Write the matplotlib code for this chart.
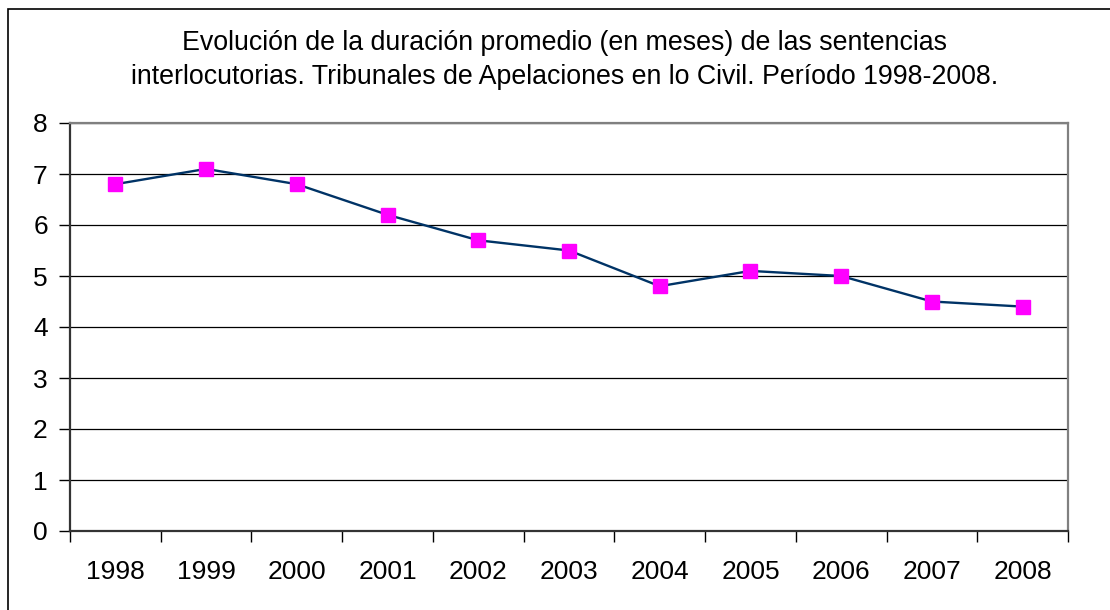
import matplotlib
matplotlib.use("Agg")
import matplotlib.pyplot as plt
from matplotlib.patches import Rectangle
import numpy as np

plt.rcParams["font.family"] = ["Liberation Sans", "DejaVu Sans"]

# --- data ---
years = ["1998", "1999", "2000", "2001", "2002", "2003",
         "2004", "2005", "2006", "2007", "2008"]
duracion = [6.8, 7.1, 6.8, 6.2, 5.7, 5.5, 4.8, 5.1, 5.0, 4.5, 4.4]
y_ticks = [0, 1, 2, 3, 4, 5, 6, 7, 8]

title = ("Evolución de la duración promedio (en meses) de las sentencias\n"
         "interlocutorias. Tribunales de Apelaciones en lo Civil. Período 1998-2008.")

fig = plt.figure(figsize=(11.1, 6.1), dpi=100)

# outer chart border (extends past right/bottom edges like the original)
fig.patches.append(Rectangle((8 / 1110, -0.1), 1.2, 1 - 9 / 610 + 0.1,
                             transform=fig.transFigure, fill=False,
                             edgecolor="black", linewidth=1.2))

ax = fig.add_axes([70 / 1110, 1 - 531 / 610, 998 / 1110, 408 / 610])

x = np.arange(len(years))
ax.plot(x, duracion, color="#003366", linewidth=1.7, zorder=3)
ax.plot(x, duracion, linestyle="none", marker="s", markersize=10,
        markerfacecolor="#FF00FF", markeredgecolor="#FF00FF", zorder=4)

ax.set_xlim(-0.5, len(years) - 0.5)
ax.set_ylim(0, 8)

ax.set_yticks(y_ticks)
ax.set_yticklabels([str(v) for v in y_ticks])
ax.yaxis.grid(True, color="black", linewidth=0.9)
ax.set_axisbelow(True)

ax.set_xticks(x)
ax.set_xticklabels(years)
ax.set_xticks(np.arange(-0.5, len(years), 1.0), minor=True)
ax.tick_params(axis="x", which="major", length=0, pad=21, labelsize=19)
ax.tick_params(axis="x", which="minor", length=8, width=1, color="black",
               direction="out")
ax.tick_params(axis="y", length=8, width=1, pad=8, labelsize=19,
               direction="out")

for side in ["left", "bottom"]:
    ax.spines[side].set_color("#333333")
    ax.spines[side].set_linewidth(1.6)
for side in ["top", "right"]:
    ax.spines[side].set_color("#808080")
    ax.spines[side].set_linewidth(1.6)

fig.text(565 / 1110, 1 - 60 / 610, title, ha="center", va="center",
         fontsize=19.3, linespacing=1.4)

fig.savefig("out.png", dpi=100)
